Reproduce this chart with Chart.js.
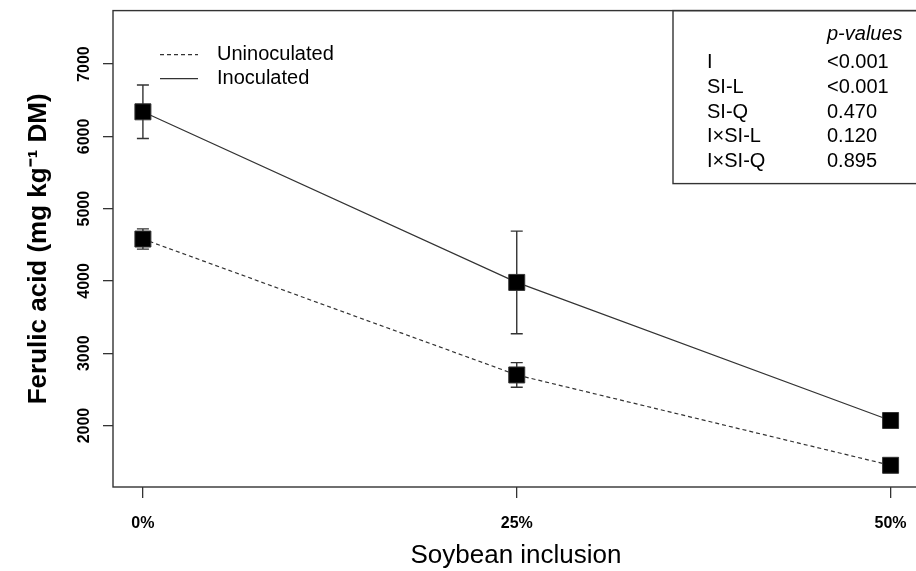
<!DOCTYPE html>
<html>
<head>
<meta charset="utf-8">
<script src="https://cdn.jsdelivr.net/npm/chart.js@4.4.0/dist/chart.umd.min.js"></script>
<style>
  html, body { margin: 0; padding: 0; background: #fff; overflow: hidden; }
  #wrap { width: 916px; height: 571px; overflow: hidden; }
</style>
</head>
<body>
<div id="wrap"><canvas id="chart" width="924" height="571"></canvas></div>
<script>
// soybean inclusion levels and tick labels
const inclusion = [0, 25, 50];
const xTickLabels = ['0%', '25%', '50%'];
const yTicks = [2000, 3000, 4000, 5000, 6000, 7000];

// ferulic acid, mg/kg DM (mean and error)
const uninoculated = [4580, 2700, 1450];
const uninoculatedErr = [140, 170, 60];
const inoculated = [6340, 3980, 2070];
const inoculatedErr = [370, 710, 80];

// p-values table
const pTerms = ['I', 'SI-L', 'SI-Q', 'I×SI-L', 'I×SI-Q'];
const pValues = ['<0.001', '<0.001', '0.470', '0.120', '0.895'];

const FONT = 'Arial, "Liberation Sans", Helvetica, sans-serif';
const INK = '#333';

Chart.defaults.font.family = FONT;
Chart.defaults.color = '#000';

function toPoints(values) {
    return inclusion.map((x, i) => ({ x: x, y: values[i] }));
}

const errorBars = {
    id: 'errorBars',
    beforeDatasetsDraw(chart) {
        const ctx = chart.ctx;
        const xs = chart.scales.x, ys = chart.scales.y;
        ctx.save();
        ctx.strokeStyle = INK;
        ctx.lineWidth = 1.4;
        chart.data.datasets.forEach(ds => {
            ds.data.forEach((p, i) => {
                const e = ds.errors[i];
                const x = xs.getPixelForValue(p.x);
                const top = ys.getPixelForValue(p.y + e);
                const bot = ys.getPixelForValue(p.y - e);
                ctx.beginPath();
                ctx.moveTo(x, top); ctx.lineTo(x, bot);
                ctx.moveTo(x - 6, top); ctx.lineTo(x + 6, top);
                ctx.moveTo(x - 6, bot); ctx.lineTo(x + 6, bot);
                ctx.stroke();
            });
        });
        ctx.restore();
    }
};

const frameAndNotes = {
    id: 'frameAndNotes',
    afterDraw(chart) {
        const ctx = chart.ctx;
        const a = chart.chartArea;
        ctx.save();
        ctx.strokeStyle = INK;
        ctx.lineWidth = 1.4;
        ctx.strokeRect(a.left, a.top, a.right - a.left, a.bottom - a.top);

        // legend
        ctx.font = '20px ' + FONT;
        ctx.textBaseline = 'middle';
        ctx.textAlign = 'left';
        ctx.fillStyle = '#000';
        [0, 1].forEach((di, k) => {
            const ds = chart.data.datasets[di];
            const y = a.top + 44 + k * 24;
            ctx.beginPath();
            ctx.setLineDash(ds.borderDash || []);
            ctx.lineWidth = 1.2;
            ctx.moveTo(a.left + 47, y);
            ctx.lineTo(a.left + 85, y);
            ctx.stroke();
            ctx.setLineDash([]);
            ctx.fillText(ds.label, a.left + 104, y);
        });

        // p-values box
        const bx = a.left + 560;
        ctx.lineWidth = 1.4;
        ctx.strokeRect(bx, a.top, 400, 173);
        ctx.font = 'italic 20px ' + FONT;
        ctx.fillText('p-values', bx + 154, a.top + 24);
        ctx.font = '20px ' + FONT;
        pTerms.forEach((t, i) => {
            const y = a.top + 52 + i * 24.7;
            ctx.fillText(t, bx + 34, y);
            ctx.fillText(pValues[i], bx + 154, y);
        });
        ctx.restore();
    }
};

const ctx = document.getElementById('chart').getContext('2d');
new Chart(ctx, {
    type: 'line',
    data: {
        datasets: [
            {
                label: 'Uninoculated',
                data: toPoints(uninoculated),
                errors: uninoculatedErr,
                borderColor: INK,
                borderWidth: 1.2,
                borderDash: [4, 3],
                pointStyle: 'rect',
                pointRadius: 11.3,
                pointHoverRadius: 11.3,
                pointBackgroundColor: '#000',
                pointBorderColor: INK,
                pointBorderWidth: 1
            },
            {
                label: 'Inoculated',
                data: toPoints(inoculated),
                errors: inoculatedErr,
                borderColor: INK,
                borderWidth: 1.2,
                pointStyle: 'rect',
                pointRadius: 11.3,
                pointHoverRadius: 11.3,
                pointBackgroundColor: '#000',
                pointBorderColor: INK,
                pointBorderWidth: 1
            }
        ]
    },
    options: {
        responsive: false,
        animation: false,
        layout: { autoPadding: false, padding: { top: 4, right: 5, left: 0, bottom: 0 } },
        scales: {
            x: {
                type: 'linear',
                min: -2,
                max: 51.9,
                afterBuildTicks: scale => { scale.ticks = inclusion.map(v => ({ value: v })); },
                afterFit: scale => { scale.height = 84; },
                ticks: {
                    font: { size: 16, weight: 'bold' },
                    padding: 16,
                    maxRotation: 0,
                    callback: v => xTickLabels[inclusion.indexOf(v)]
                },
                grid: { drawOnChartArea: false, drawTicks: true, tickLength: 11, color: INK, lineWidth: 1.3 },
                border: { display: false },
                title: {
                    display: true,
                    text: 'Soybean inclusion',
                    font: { size: 26 },
                    padding: { top: 0, bottom: 0 }
                }
            },
            y: {
                min: 1150,
                max: 7740,
                afterBuildTicks: scale => { scale.ticks = yTicks.map(v => ({ value: v })); },
                afterFit: scale => { scale.width = 113; },
                ticks: {
                    font: { size: 16, weight: 'bold' },
                    minRotation: 90,
                    maxRotation: 90,
                    crossAlign: 'center',
                    padding: 1,
                    callback: v => String(v)
                },
                grid: { drawOnChartArea: false, drawTicks: true, tickLength: 10, color: INK, lineWidth: 1.3 },
                border: { display: false },
                title: {
                    display: true,
                    text: 'Ferulic acid (mg kg\u207B\u00B9 DM)',
                    font: { size: 26, weight: 'bold' },
                    padding: { top: 23, bottom: 0 }
                }
            }
        },
        plugins: {
            legend: { display: false },
            tooltip: { enabled: false }
        }
    },
    plugins: [errorBars, frameAndNotes]
});
</script>
</body>
</html>
